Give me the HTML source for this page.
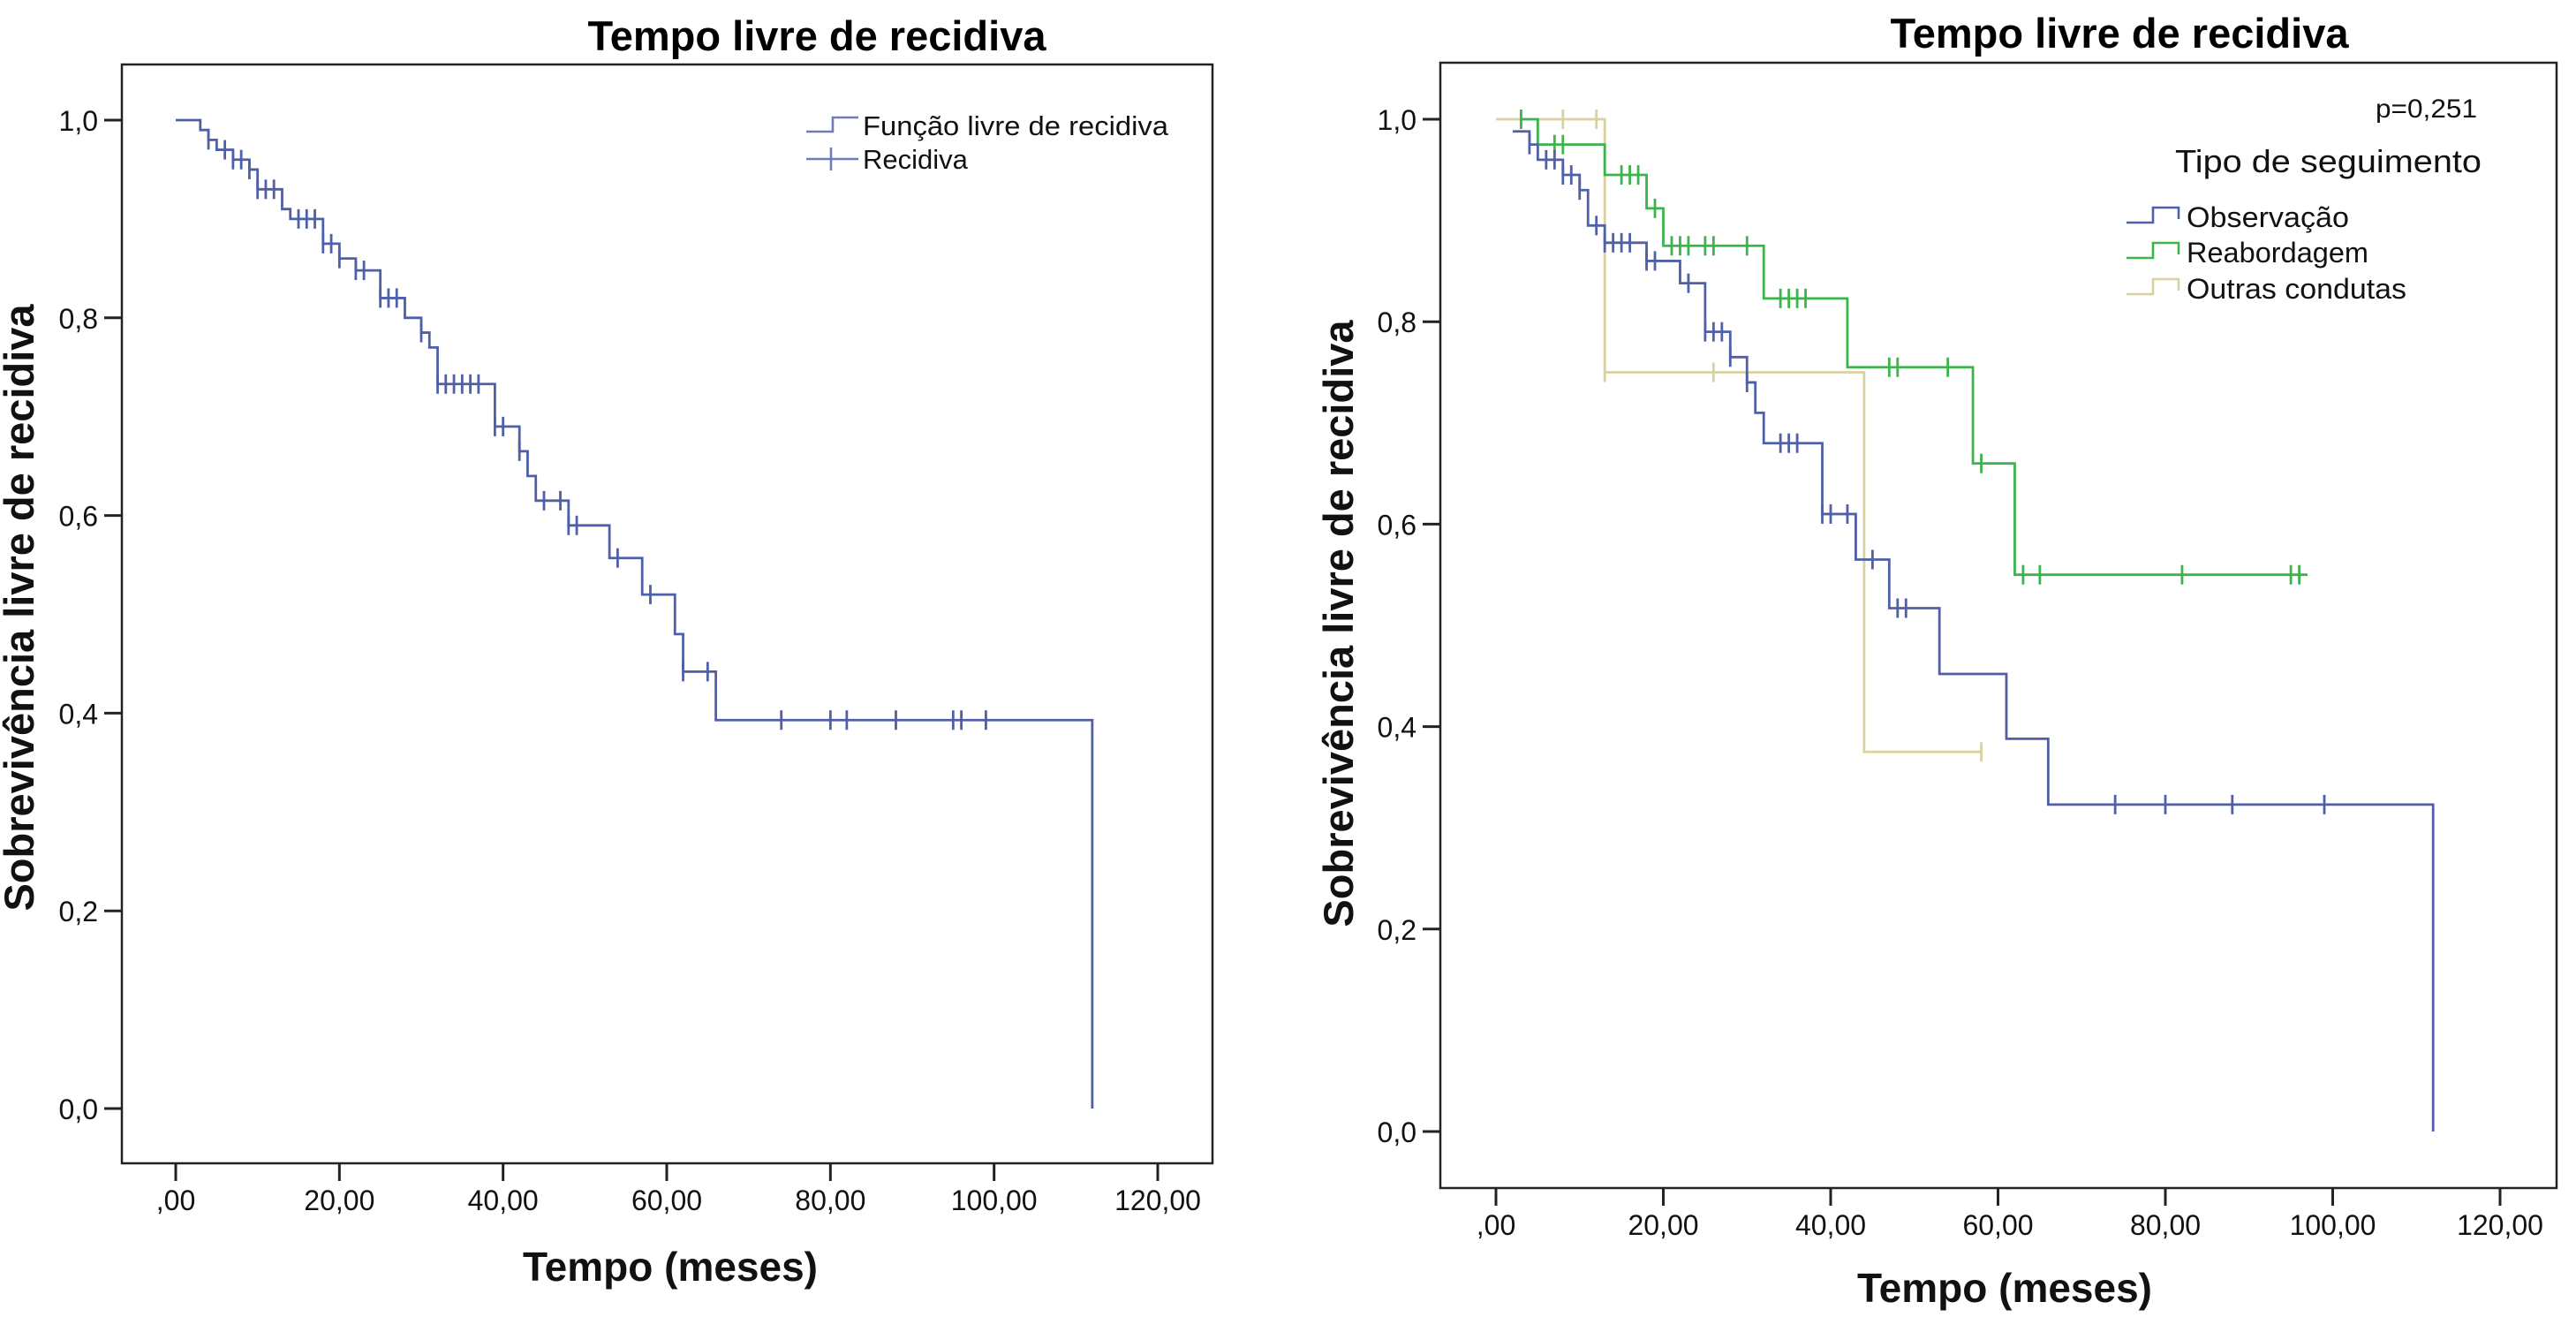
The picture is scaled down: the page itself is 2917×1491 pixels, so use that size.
<!DOCTYPE html>
<html><head><meta charset="utf-8"><style>
html,body{margin:0;padding:0;background:#fff;}
svg{display:block;font-family:"Liberation Sans",Arial,sans-serif;}
</style></head><body>
<svg id="c" width="2917" height="1491" viewBox="0 0 2917 1491"></svg>
<script>
// Left chart data
const leftSteps=[[0,1.0],[3,0.99],[4,0.98],[5,0.97],[7,0.96],[9,0.95],[10,0.93],[13,0.91],[14,0.90],[18,0.875],[20,0.86],[22,0.848],[25,0.82],[28,0.80],[30,0.785],[31,0.77],[32,0.733],[39,0.69],[42,0.665],[43,0.64],[44,0.615],[48,0.59],[53,0.557],[57,0.52],[61,0.48],[62,0.442],[66,0.393],[112,0.0]];
const leftEnd=112;
const leftCens=[4,6,7,8,9,10,11,12,15,16,17,18,19,20,22,23,25,26,27,30,32,33,34,35,36,37,39,40,42,45,47,48,49,54,58,62,65,74,80,82,88,95,96,99];
// Right chart data
const obsSteps=[[2,0.988],[4,0.975],[5,0.96],[8,0.945],[10,0.93],[11,0.895],[13,0.878],[18,0.86],[22,0.838],[25,0.79],[28,0.765],[30,0.74],[31,0.71],[32,0.68],[39,0.61],[43,0.565],[47,0.517],[53,0.452],[61,0.388],[66,0.323],[112,0.0]];
const obsEnd=112;
const obsCens=[4,6,7,8,9,10,12,13,14,15,16,18,19,23,25,26,27,28,30,34,35,36,39,40,42,45,48,49,74,80,88,99];
const reaSteps=[[3,1.0],[5,0.975],[13,0.945],[18,0.912],[20,0.875],[32,0.823],[42,0.755],[57,0.66],[62,0.55]];
const reaEnd=97;
const reaCens=[3,7,8,15,16,17,19,21,22,23,25,26,30,34,35,36,37,47,48,54,58,63,65,82,95,96];
const outSteps=[[0,1.0],[13,0.75],[44,0.375]];
const outEnd=58;
const outCens=[8,12,13,26,58];
const xTicks=[0,20,40,60,80,100,120];
const xTickLabels=[",00","20,00","40,00","60,00","80,00","100,00","120,00"];
const yTicks=[0,0.2,0.4,0.6,0.8,1.0];
const yTickLabels=["0,0","0,2","0,4","0,6","0,8","1,0"];

const NS="http://www.w3.org/2000/svg";
const svg=document.getElementById('c');
function mk(tag,attrs,parent,text){const e=document.createElementNS(NS,tag);for(const k in attrs)e.setAttribute(k,attrs[k]);if(text!==undefined)e.textContent=text;(parent||svg).appendChild(e);return e;}

function chart(cfg){
  const g=mk('g',{});
  
  
  const X=v=>cfg.x0+(v/120)*(cfg.x120-cfg.x0);
  const Y=v=>cfg.y0-v*(cfg.y0-cfg.y1);
  const fr=mk('rect',{x:cfg.fl,y:cfg.ft,width:cfg.fr-cfg.fl,height:cfg.fb-cfg.ft,fill:'none',stroke:'#222','stroke-width':2.5},g);
  
  const t=mk('text',{x:cfg.titleX,y:cfg.titleY,'font-size':47,'font-weight':'bold','text-anchor':'middle',fill:'#000'},g,'Tempo livre de recidiva');
  
  xTicks.forEach((v,i)=>{
    const l=mk('line',{x1:X(v),x2:X(v),y1:cfg.fb,y2:cfg.fb+20,stroke:'#222','stroke-width':3},g);
    
    const tx=mk('text',{x:X(v),y:cfg.fb+53,'font-size':32,'text-anchor':'middle',fill:'#111'},g,xTickLabels[i]);
    
  });
  yTicks.forEach((v,i)=>{
    const l=mk('line',{x1:cfg.fl-20,x2:cfg.fl,y1:Y(v),y2:Y(v),stroke:'#222','stroke-width':3},g);
    
    const tx=mk('text',{x:cfg.fl-27,y:Y(v)+12,'font-size':32,'text-anchor':'end',fill:'#111'},g,yTickLabels[i]);
    
  });
  const xt=mk('text',{x:cfg.xTitleX,y:cfg.xTitleY,'font-size':46,'font-weight':'bold','text-anchor':'middle',fill:'#111'},g,'Tempo (meses)');
  
  const yc=cfg.yTitleY;
  const yt=mk('text',{x:cfg.yTitleX,y:yc,'font-size':47,'font-weight':'bold','text-anchor':'middle',fill:'#111',transform:`rotate(-90 ${cfg.yTitleX} ${yc})`},g,'Sobrevivência livre de recidiva');
  
  cfg.series.forEach(s=>{
    let d='',prev=null;
    s.steps.forEach((p,i)=>{
      if(i===0)d+=`M${X(p[0])},${Y(p[1])}`;
      else d+=`H${X(p[0])}V${Y(p[1])}`;
      prev=p;
    });
    if(s.end>prev[0])d+=`H${X(s.end)}`;
    const path=mk('path',{d:d,fill:'none',stroke:s.color,'stroke-width':2.8},g);
    
    const val=t=>{let v=s.steps[0][1];s.steps.forEach(p=>{if(p[0]<=t)v=p[1];});return v;};
    s.cens.forEach(c=>{
      const m=mk('line',{x1:X(c),x2:X(c),y1:Y(val(c))-11,y2:Y(val(c))+11,stroke:s.color,'stroke-width':2.8},g);
      
    });
  });
  return {g,X,Y};
}

chart({name:'left-chart',fl:138,fr:1373,ft:73,fb:1317,x0:199,x120:1311,y0:1255,y1:136,
  titleX:925,titleY:57,xTitleX:759,xTitleY:1450,yTitleX:38,yTitleY:688,
  series:[{name:'recidiva',color:'#4f5fa8',steps:leftSteps,end:leftEnd,cens:leftCens}]});
(function(){
  const g=mk('g',{});
  const p=mk('path',{d:'M913,149H943V133H972',fill:'none',stroke:'#6f7cb8','stroke-width':2.6},g);
  
  const a=mk('text',{x:977,y:153,'font-size':31,fill:'#111',textLength:346,lengthAdjust:'spacingAndGlyphs'},g,'Função livre de recidiva');
  
  const q=mk('path',{d:'M913,180H972M941,167V193',fill:'none',stroke:'#6f7cb8','stroke-width':2.6},g);
  
  const b=mk('text',{x:977,y:191,'font-size':31,fill:'#111'},g,'Recidiva');
  
})();

chart({name:'right-chart',fl:1631,fr:2895,ft:71,fb:1345,x0:1694,x120:2831,y0:1281,y1:135,
  titleX:2400,titleY:54,xTitleX:2270,xTitleY:1474,yTitleX:1532,yTitleY:706,
  series:[
    {name:'outras-condutas',color:'#d9d2a0',steps:outSteps,end:outEnd,cens:outCens},
    {name:'reabordagem',color:'#3cb44b',steps:reaSteps,end:reaEnd,cens:reaCens},
    {name:'observacao',color:'#4f5fa8',steps:obsSteps,end:obsEnd,cens:obsCens}]});
(function(){
  const g=mk('g',{});
  const pv=mk('text',{x:2805,y:133,'font-size':30,'text-anchor':'end',fill:'#111',textLength:115,lengthAdjust:'spacingAndGlyphs'},g,'p=0,251');
  
  const tt=mk('text',{x:2463,y:195,'font-size':36,fill:'#111',textLength:347,lengthAdjust:'spacingAndGlyphs'},g,'Tipo de seguimento');
  
  const items=[['Observação','#4f5fa8',257,184],['Reabordagem','#3cb44b',297,206],['Outras condutas','#d9d2a0',338,249]];
  items.forEach(it=>{
    const y=it[2];
    const p=mk('path',{d:`M2408,${y-5}H2438V${y-22}H2467V${y-9}`,fill:'none',stroke:it[1],'stroke-width':2.6},g);
    
    const t=mk('text',{x:2476,y:y,'font-size':32,fill:'#111',textLength:it[3],lengthAdjust:'spacingAndGlyphs'},g,it[0]);
    
  });
})();
</script>
</body></html>
